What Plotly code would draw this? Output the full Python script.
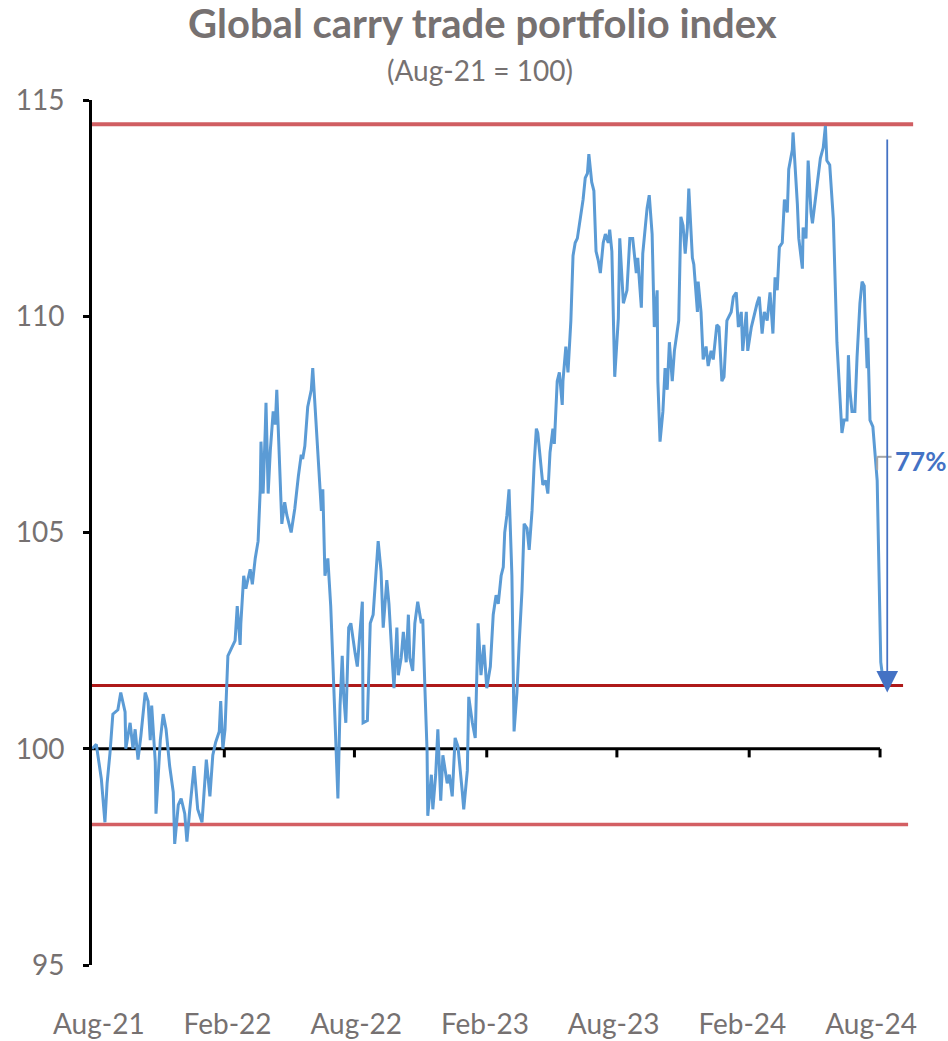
import datetime as dt
import plotly.graph_objects as go

# Index base date (Aug-21 = 100); observations are stored as days since this date
BASE = dt.datetime(2021, 8, 1)

day_offset = [
    0, 6, 13, 18, 21, 25, 29, 36, 40, 46, 47, 53, 57, 60, 64, 68, 74, 78, 81, 83,
    88, 89, 95, 99, 103, 108, 113, 115, 120, 124, 129, 132, 136, 142, 147, 153, 159, 164, 168, 172,
    177, 179, 182, 185, 189, 193, 199, 202, 206, 207, 211, 214, 220, 223, 227, 231, 234, 235, 238, 241,
    242, 245, 248, 252, 255, 257, 261, 264, 268, 271, 277, 282, 287, 291, 293, 296, 300, 305, 307, 310,
    314, 317, 319, 321, 324, 328, 332, 335, 338, 342, 345, 348, 350, 353, 357, 360, 366,
    369, 376, 377, 383, 387, 391, 394, 398, 402, 405, 410, 413, 417, 420, 424, 426, 430, 433, 437,
    440, 442, 446, 449, 453, 458, 460, 463, 466, 467, 472, 474, 478, 481, 485, 488, 494, 497, 501, 505,
    509, 515, 517, 522, 524, 529, 533, 537, 541, 545, 549, 554, 558, 562, 565, 569, 572, 574, 577, 580,
    584, 587, 591, 594, 598, 601, 605, 608, 612, 615, 618, 620, 625, 627, 631, 634, 637, 641, 643, 647,
    650, 654, 655, 659, 662, 666, 669, 672, 675, 679, 683, 686, 689, 691, 695, 698, 701, 704, 707, 711,
    714, 718,
    720, 723, 727, 732, 734, 739, 744, 748, 752, 757, 759, 764, 766, 772, 775, 779, 782, 786, 787, 790,
    794, 797, 800, 803, 807, 810, 814, 816, 819, 822, 825, 828, 830, 835, 837, 842, 843, 847, 850, 854,
    857, 861, 864, 869, 872, 876, 879, 883, 889, 892, 896, 899, 903, 905, 910, 912, 917, 919, 925, 928,
    932, 935, 939, 943, 947, 950, 953, 956, 960, 963, 967, 969, 974, 975, 978, 981, 983, 988, 989, 993,
    996, 1000, 1002, 1006, 1010, 1013, 1017, 1020, 1022, 1026, 1031, 1033, 1036, 1038, 1040, 1043, 1046, 1050, 1052, 1054,
    1057, 1061, 1064, 1068, 1071, 1074, 1075, 1078, 1079, 1082, 1086, 1089, 1092, 1097, 1100,
]

index_value = [
    100.0, 100.1, 99.3, 98.3, 99.2, 99.9, 100.8, 100.9, 101.3, 100.85, 100.0, 100.6, 100.0, 100.45, 99.75, 100.3, 101.3, 101.1, 100.2, 101.0,
    99.7, 98.5, 100.2, 100.8, 100.45, 99.6, 99.0, 97.8, 98.7, 98.85, 98.5, 97.85, 98.6, 99.6, 98.6, 98.3, 99.75, 98.9, 99.85, 100.15,
    100.4, 101.1, 100.0, 100.45, 102.15, 102.3, 102.5, 103.3, 102.4, 102.9, 104.0, 103.7, 104.15, 103.8, 104.4, 104.8, 106.0, 107.1, 105.9, 107.4,
    108.0, 105.9, 106.9, 107.8, 107.5, 108.3, 106.4, 105.2, 105.7, 105.4, 105.0, 105.55, 106.3, 106.8, 106.7, 107.0, 107.9, 108.3, 108.8, 108.0,
    106.7, 106.1, 105.5, 106.0, 104.0, 104.4, 103.3, 102.0, 100.45, 98.85, 101.0, 102.15, 101.25, 100.6, 102.8, 102.9, 102.2,
    101.9, 103.4, 100.6, 100.65, 102.9, 103.1, 103.9, 104.8, 104.1, 102.8, 103.9, 103.35, 102.2, 101.4, 102.8, 101.7, 102.1, 102.7, 102.0,
    103.1, 102.1, 101.8, 102.9, 103.4, 102.9, 103.0, 101.4, 99.95, 98.45, 99.4, 98.6, 99.4, 100.45, 98.8, 99.85, 99.2, 99.4, 98.9, 100.25,
    100.05, 99.0, 98.6, 99.5, 101.2, 100.6, 100.25, 102.9, 101.7, 102.4, 101.4, 101.9, 103.1, 103.55, 103.35, 104.0, 104.2, 105.0, 105.4, 106.0,
    104.0, 100.4, 101.3, 102.4, 103.65, 105.2, 105.1, 104.6, 105.5, 106.6, 107.4, 107.3, 106.3, 106.1, 106.2, 105.9, 106.85, 107.4, 107.05, 108.5,
    108.7, 107.95, 108.5, 109.3, 108.7, 109.9, 111.4, 111.7, 111.8, 112.2, 112.7, 113.2, 113.3, 113.75, 113.1, 112.9, 111.5, 111.3, 111.0, 111.7,
    111.9, 111.7,
    112.0, 111.5, 108.6, 109.95, 111.8, 110.3, 110.6, 111.8, 111.8, 111.0, 111.35, 110.2, 111.45, 112.5, 112.8, 111.9, 109.75, 110.6, 108.5, 107.1,
    107.8, 108.8, 108.3, 109.4, 108.5, 109.2, 109.75, 109.9, 112.3, 112.1, 111.45, 112.05, 112.95, 111.35, 111.2, 110.1, 110.8, 110.1, 109.0, 109.3,
    108.85, 109.2, 109.0, 109.8, 109.75, 108.5, 108.6, 109.9, 110.1, 110.45, 110.55, 109.75, 110.1, 109.2, 110.1, 109.2, 109.75, 109.9, 110.3, 110.45,
    109.6, 110.1, 109.9, 110.55, 109.6, 110.9, 110.6, 111.6, 111.7, 112.7, 112.4, 113.4, 113.85, 114.25, 113.5, 112.6, 111.8, 111.1, 112.05, 111.8,
    113.6, 112.4, 112.15, 112.7, 113.2, 113.65, 113.9, 114.4, 113.6, 113.5, 112.25, 111.0, 109.4, 108.8, 108.3, 107.3, 107.6, 107.6, 109.1, 108.3,
    107.8, 107.8, 109.05, 110.3, 110.8, 110.7, 110.1, 108.8, 109.5, 107.6, 107.45, 106.9, 106.2, 102.0, 101.6,
]

# Reference levels: recent high, post-shock low, earlier trough
band_levels = [114.44, 101.46, 98.25]
band_end_day = [1142, 1128, 1135]

# Six-monthly markers on the 100 line
axis_months = [dt.datetime(2021, 8, 1), dt.datetime(2022, 2, 1), dt.datetime(2022, 8, 1),
               dt.datetime(2023, 2, 1), dt.datetime(2023, 8, 1), dt.datetime(2024, 2, 1),
               dt.datetime(2024, 8, 1)]
tick_labels = ["Aug-21", "Feb-22", "Aug-22", "Feb-23", "Aug-23", "Feb-24", "Aug-24"]
y_ticks = [95, 100, 105, 110, 115]

# Drawdown callout
drop_from, drop_to = 114.12, 101.3
drop_day = 1106
drop_label = "77%"
drop_label_level = 106.75


def day(d):
    return BASE + dt.timedelta(days=d)


dates = [day(d) for d in day_offset]

GREY = "#767171"
BLUE = "#5B9BD5"
ARROW = "#4472C4"
FONT = "Lato, 'Open Sans', sans-serif"

fig = go.Figure()

fig.add_trace(go.Scatter(
    x=dates, y=index_value, mode="lines",
    line=dict(color=BLUE, width=3),
    hoverinfo="skip", showlegend=False,
))

shapes = []
red_styles = [
    dict(color="rgba(192,40,45,0.75)", width=4),
    dict(color="rgba(165,0,0,0.9)", width=3),
    dict(color="rgba(200,55,60,0.8)", width=3.5),
]
for lvl, end, style in zip(band_levels, band_end_day, red_styles):
    shapes.append(dict(type="line", xref="x", yref="y", layer="below",
                       x0=day(-5), x1=day(end), y0=lvl, y1=lvl, line=style))

# The 100 line acting as the date axis, with downward ticks
shapes.append(dict(type="line", xref="x", yref="y", layer="below",
                   x0=axis_months[0], x1=axis_months[-1], y0=100, y1=100,
                   line=dict(color="black", width=3)))
for m in axis_months[1:]:
    shapes.append(dict(type="line", xref="x", yref="y", layer="below",
                       x0=m, x1=m, y0=100, y1=99.8,
                       line=dict(color="black", width=3)))

# Grey leader for the callout
shapes.append(dict(type="line", xref="x", yref="y",
                   x0=day(1092), x1=day(1112), y0=drop_label_level, y1=drop_label_level,
                   line=dict(color="#A6A6A6", width=2)))
shapes.append(dict(type="line", xref="x", yref="y",
                   x0=day(1092), x1=day(1092), y0=drop_label_level, y1=drop_label_level - 0.3,
                   line=dict(color="#A6A6A6", width=2)))

annotations = [
    dict(text="<b>Global carry trade portfolio index</b>", xref="paper", yref="paper",
         x=(482 - 92) / 856, y=1 + (100 - 23) / 865, xanchor="center", yanchor="middle",
         showarrow=False, font=dict(family=FONT, size=40, color=GREY)),
    dict(text="(Aug-21 = 100)", xref="paper", yref="paper",
         x=(480 - 92) / 856, y=1 + (100 - 70) / 865, xanchor="center", yanchor="middle",
         showarrow=False, font=dict(family=FONT, size=28, color=GREY)),
    dict(text="", x=day(drop_day), y=drop_to, ax=day(drop_day), ay=drop_from,
         xref="x", yref="y", axref="x", ayref="y",
         showarrow=True, arrowhead=2, arrowsize=2.4, arrowwidth=1.8, arrowcolor=ARROW),
    dict(text="<b>" + drop_label + "</b>", xref="paper", x=1.0, y=drop_label_level - 0.1,
         yref="y", xanchor="right", yanchor="middle", showarrow=False,
         font=dict(family=FONT, size=26, color=ARROW)),
]

label_pos = [day(9.5 + 179 * i) for i in range(len(tick_labels))]

fig.update_layout(
    width=948, height=1041,
    margin=dict(l=92, r=0, t=100, b=76),
    paper_bgcolor="white", plot_bgcolor="white",
    font=dict(family=FONT, color=GREY),
    shapes=shapes, annotations=annotations,
    xaxis=dict(type="date", range=[BASE, day(1190.5)], showgrid=False, zeroline=False,
               showline=False, tickvals=label_pos, ticktext=tick_labels, ticks="",
               ticklabelstandoff=40, tickfont=dict(family=FONT, size=28, color=GREY)),
    yaxis=dict(range=[95, 115], tickvals=y_ticks, showgrid=False, zeroline=False,
               showline=True, linecolor="black", linewidth=3,
               ticks="outside", ticklen=6, tickwidth=3, tickcolor="black",
               ticklabelstandoff=13, tickfont=dict(family=FONT, size=28, color=GREY)),
    showlegend=False,
)

fig.write_html("out.html")
